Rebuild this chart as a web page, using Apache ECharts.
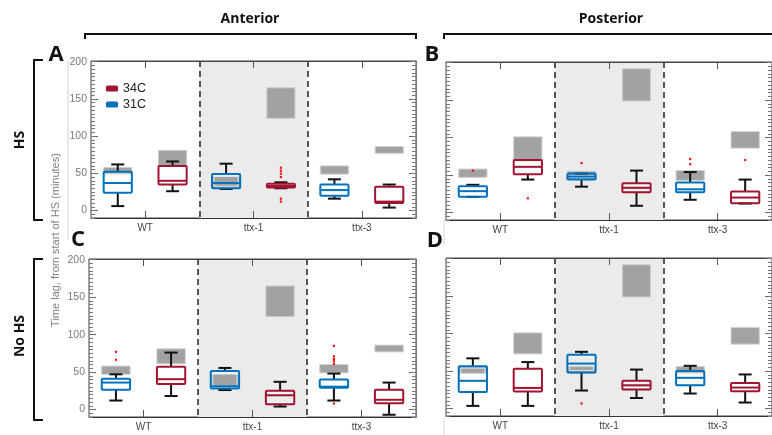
<!DOCTYPE html>
<html>
<head>
<meta charset="utf-8">
<script src="https://cdn.jsdelivr.net/npm/echarts@6/dist/echarts.min.js"></script>
<style>
html, body { margin: 0; padding: 0; background: #fff; }
#chart { width: 772px; height: 435px; }
</style>
</head>
<body>
<div id="chart"></div>
<script>
// categories and y ticks
const categories = ['WT', 'ttx-1', 'ttx-3'];
const yTicks = [0, 50, 100, 150, 200];

// box stats per genotype: [min, q1, median, q3, max]
const antHS_34C = [[26, 35, 40, 60, 66], [30, 31, 33, 36, 38], [4, 10, 12, 32, 35]];
const antHS_31C = [[6, 24, 37, 52, 62], [29, 30, 37, 49, 63], [16, 20, 27.5, 35, 42]];
const posHS_34C = [[44, 51, 61, 70, 70], [9, 27, 33, 39, 56], [12, 12.5, 20, 28, 44]];
const posHS_31C = [[21, 21, 28.5, 35, 37], [34.5, 44, 48, 52, 52], [17, 27, 31, 40, 54]];
const antNo_34C = [[18, 34, 40.5, 57, 76], [4, 7, 19, 25, 37], [-7, 8.5, 13, 26.5, 36]];
const antNo_31C = [[12, 26.5, 36, 41, 47], [26, 28, 31, 51.5, 55.5], [12, 29, 30.5, 40, 48]];
const posNo_34C = [[3.5, 22.7, 27.5, 53, 62], [14, 25.5, 31, 37, 52], [8, 23, 28, 34, 45.5]];
const posNo_31C = [[3.5, 22, 37, 56.6, 67], [24, 48, 60, 71.7, 75.7], [20, 31, 41, 50, 57]];

// outliers: [genotype index, value]
const antHS_34C_out = [[1, 57.5], [1, 53.5], [1, 49.5], [1, 45], [1, 16], [1, 12]];
const antHS_31C_out = [];
const posHS_34C_out = [[0, 19], [2, 70]];
const posHS_31C_out = [[0, 56], [1, 66], [2, 71.5], [2, 64.5]];
const antNo_34C_out = [];
const antNo_31C_out = [[0, 77], [0, 66.5], [2, 85], [2, 71], [2, 67.5], [2, 64.5], [2, 61], [2, 8]];
const posNo_34C_out = [];
const posNo_31C_out = [[1, 6.7]];

// grey reference ranges: [low, high] per genotype
const antHS_34C_ref = [[60, 81], [124, 165], [77, 86]];
const antHS_31C_ref = [[49, 58], [30, 46], [49, 60]];
const posHS_34C_ref = [[70, 101], [149, 192], [86, 108]];
const posHS_31C_ref = [[47, 58], [44, 55], [43, 56]];
const antNo_34C_ref = [[61, 81], [124, 165], [77, 86]];
const antNo_31C_ref = [[47, 58], [31, 47], [49, 60]];
const posNo_34C_ref = [[73, 101], [149, 192], [86, 108]];
const posNo_31C_ref = [[47, 56], [47, 56], [47, 56]];

const RED = '#A2142F';
const BLUE = '#0072BD';
const OFF = 0.253;   // box offset from group centre (share of band)
const BOXW = 0.26;
const CAPW = 0.12;

const panels = [
  { box: { left: 91, top: 61, width: 325, height: 157 }, labels: true,
    s34: antHS_34C, s31: antHS_31C, o34: antHS_34C_out, o31: antHS_31C_out, r34: antHS_34C_ref, r31: antHS_31C_ref },
  { box: { left: 446, top: 62, width: 327, height: 158 }, labels: false,
    s34: posHS_34C, s31: posHS_31C, o34: posHS_34C_out, o31: posHS_31C_out, r34: posHS_34C_ref, r31: posHS_31C_ref },
  { box: { left: 89, top: 259, width: 327, height: 158 }, labels: true,
    s34: antNo_34C, s31: antNo_31C, o34: antNo_34C_out, o31: antNo_31C_out, r34: antNo_34C_ref, r31: antNo_31C_ref },
  { box: { left: 446, top: 258, width: 327, height: 158 }, labels: false,
    s34: posNo_34C, s31: posNo_31C, o34: posNo_34C_out, o31: posNo_31C_out, r34: posNo_34C_ref, r31: posNo_31C_ref }
];

const font = 'Liberation Sans, Arial, sans-serif';

function centerX(api, ci, side) {
  const band = api.size([1, 0])[0];
  return [api.coord([ci, 0])[0] + side * band * OFF, band];
}

function refSeries(side, ranges, g) {
  return {
    type: 'custom', xAxisIndex: g * 2, yAxisIndex: g * 4, z: 2, silent: true,
    encode: { x: 0, y: [1, 2] },
    data: ranges.map((r, i) => [i, r[0], r[1]]),
    renderItem(params, api) {
      const ci = api.value(0);
      const [cx, band] = centerX(api, ci, side);
      const w = band * BOXW;
      const yLo = api.coord([ci, api.value(1)])[1];
      const yHi = api.coord([ci, api.value(2)])[1];
      return {
        type: 'rect',
        shape: { x: cx - w / 2, y: yHi, width: w, height: yLo - yHi },
        style: { fill: '#a2a2a2', stroke: '#cfcfcf', lineWidth: 1 }
      };
    }
  };
}

function boxSeries(name, color, side, stats, g) {
  return {
    name, type: 'custom', xAxisIndex: g * 2, yAxisIndex: g * 4, z: 3,
    itemStyle: { color },
    encode: { x: 0, y: [1, 2, 3, 4, 5] },
    data: stats.map((s, i) => [i, ...s]),
    renderItem(params, api) {
      const ci = api.value(0);
      const [cx, band] = centerX(api, ci, side);
      const w = band * BOXW, cw = band * CAPW;
      const y = k => api.coord([ci, api.value(k)])[1];
      const yMin = y(1), yQ1 = y(2), yMed = y(3), yQ3 = y(4), yMax = y(5);
      const blk = { stroke: '#111', lineWidth: 2 };
      return {
        type: 'group',
        children: [
          { type: 'line', shape: { x1: cx, y1: yQ3, x2: cx, y2: yMax }, style: blk },
          { type: 'line', shape: { x1: cx, y1: yQ1, x2: cx, y2: yMin }, style: blk },
          { type: 'line', shape: { x1: cx - cw / 2, y1: yMax, x2: cx + cw / 2, y2: yMax }, style: blk },
          { type: 'line', shape: { x1: cx - cw / 2, y1: yMin, x2: cx + cw / 2, y2: yMin }, style: blk },
          { type: 'rect', shape: { x: cx - w / 2, y: yQ3, width: w, height: yQ1 - yQ3, r: 1 },
            style: { fill: 'rgba(0,0,0,0)', stroke: color, lineWidth: 2 } },
          { type: 'rect', shape: { x: cx - w / 2 + 2, y: yQ3 + 2, width: w - 4, height: Math.max(0, yQ1 - yQ3 - 4) },
            style: { fill: 'rgba(0,0,0,0)', stroke: 'rgba(255,255,255,0.7)', lineWidth: 1 } },
          { type: 'line', shape: { x1: cx - w / 2, y1: yMed, x2: cx + w / 2, y2: yMed },
            style: { stroke: color, lineWidth: 2 } }
        ]
      };
    }
  };
}

function outlierSeries(side, pts, g) {
  return {
    type: 'custom', xAxisIndex: g * 2, yAxisIndex: g * 4, z: 4, silent: true,
    encode: { x: 0, y: 1 },
    data: pts,
    renderItem(params, api) {
      const ci = api.value(0);
      const [cx] = centerX(api, ci, side);
      const yy = api.coord([ci, api.value(1)])[1];
      return { type: 'rect', shape: { x: cx - 1.1, y: yy - 1.1, width: 2.2, height: 2.2 }, style: { fill: '#ff1010' } };
    }
  };
}

const grids = [], xAxes = [], yAxes = [], series = [];
panels.forEach((p, g) => {
  grids.push(Object.assign({ show: true, borderColor: '#444', borderWidth: 1, backgroundColor: 'transparent' }, p.box));
  xAxes.push({
    type: 'category', gridIndex: g, position: 'bottom', data: categories, boundaryGap: true,
    axisLine: { show: true, onZero: false, lineStyle: { color: '#333' } },
    axisTick: { show: true, inside: true, alignWithLabel: true, length: 7, lineStyle: { color: '#555' } },
    axisLabel: { fontSize: 10, color: '#444', margin: 5, fontFamily: font },
    splitLine: { show: true, showMinLine: false, showMaxLine: false, lineStyle: { type: [6, 4], color: '#222', width: 1.5 } },
    splitArea: { show: true, areaStyle: { color: ['rgba(0,0,0,0)', '#ebebeb'] } }
  });
  xAxes.push({
    type: 'category', gridIndex: g, position: 'top', data: categories, boundaryGap: true,
    axisLine: { show: true, onZero: false, lineStyle: { color: '#444' } },
    axisTick: { show: true, inside: true, alignWithLabel: true, length: 7, lineStyle: { color: '#555' } },
    axisLabel: { show: false }, splitLine: { show: false }
  });
  ['left', 'right'].forEach(pos => {
    yAxes.push({
      type: 'value', gridIndex: g, position: pos, min: -10, max: 201,
      axisLine: { show: true, onZero: false, lineStyle: { color: pos === 'left' ? '#999' : '#777' } },
      axisTick: { show: true, inside: true, length: 7, customValues: yTicks, lineStyle: { color: '#666' } },
      axisLabel: { show: p.labels && pos === 'left', customValues: yTicks, fontSize: 10.5, color: '#7a7a7a', margin: 4, fontFamily: font },
      splitLine: { show: false }
    });
    yAxes.push({
      type: 'value', gridIndex: g, position: pos, min: -10, max: 201, interval: 5,
      axisLine: { show: false, onZero: false },
      axisTick: { show: true, inside: true, length: 4, lineStyle: { color: '#777' } },
      axisLabel: { show: false }, splitLine: { show: false }
    });
  });
  series.push(refSeries(-1, p.r31, g), refSeries(1, p.r34, g));
  series.push(boxSeries('31C', BLUE, -1, p.s31, g), boxSeries('34C', RED, 1, p.s34, g));
  series.push(outlierSeries(-1, p.o31, g), outlierSeries(1, p.o34, g));
});

const bold = { fontFamily: 'Open Sans, sans-serif', fontWeight: 'bold', fill: '#111' };
const bracket = pts => ({ type: 'polyline', shape: { points: pts }, style: { stroke: '#111', lineWidth: 2, fill: null }, silent: true });
const label = (x, y, text, size, rot) => ({
  type: 'text', x, y, rotation: rot || 0, silent: true,
  style: Object.assign({ text, fontSize: size, align: 'center', verticalAlign: 'middle' }, bold)
});

const option = {
  animation: false,
  grid: grids,
  xAxis: xAxes,
  yAxis: yAxes,
  legend: {
    data: ['34C', '31C'], orient: 'vertical', left: 106, top: 82, padding: 0, itemGap: 3,
    itemWidth: 12, itemHeight: 6, icon: 'roundRect',
    textStyle: { fontSize: 12.5, color: '#222', fontFamily: font }
  },
  graphic: [
    label(250, 19, 'Anterior', 14),
    label(611, 19, 'Posterior', 14),
    label(56, 55, 'A', 22),
    label(432, 55, 'B', 22),
    label(78, 240, 'C', 22),
    label(435, 241, 'D', 22),
    label(20, 140, 'HS', 14, Math.PI / 2),
    label(20, 336, 'No HS', 14, Math.PI / 2),
    bracket([[85, 39], [85, 34], [416, 34], [416, 39]]),
    bracket([[444, 39], [444, 34], [776, 34]]),
    bracket([[43, 60], [34, 60], [34, 220], [43, 220]]),
    bracket([[43, 259], [34, 259], [34, 420], [43, 420]]),
    { type: 'line', shape: { x1: 68, y1: 61, x2: 68, y2: 240 }, style: { stroke: '#d4d4d4', lineWidth: 1 }, silent: true },
    { type: 'line', shape: { x1: 444, y1: 220, x2: 444, y2: 245 }, style: { stroke: '#d4d4d4', lineWidth: 1 }, silent: true },
    { type: 'line', shape: { x1: 444, y1: 418, x2: 444, y2: 435 }, style: { stroke: '#d4d4d4', lineWidth: 1 }, silent: true },
    {
      type: 'text', x: 56, y: 240, rotation: Math.PI / 2, silent: true,
      style: { text: 'Time lag, from start of HS (minutes)', fontSize: 11, fill: '#808080', fontFamily: font, align: 'center', verticalAlign: 'middle' }
    }
  ],
  series
};

const chart = echarts.init(document.getElementById('chart'), null, { renderer: 'canvas' });
chart.setOption(option);
</script>
</body>
</html>
